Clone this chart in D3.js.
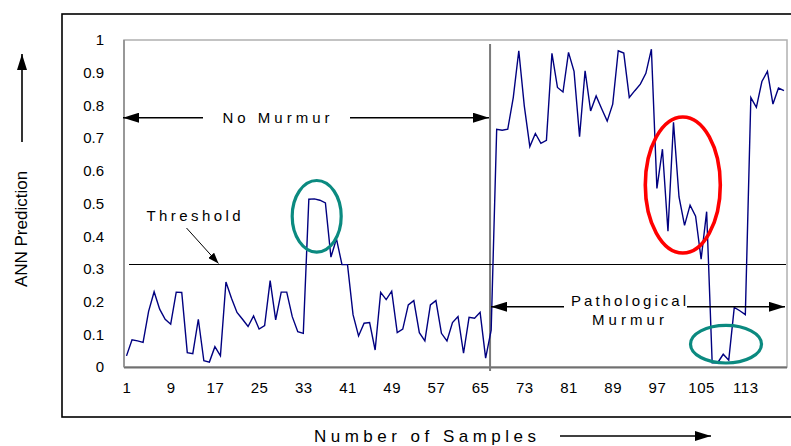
<!DOCTYPE html>
<html>
<head>
<meta charset="utf-8">
<script src="https://cdn.jsdelivr.net/npm/d3@7"></script>
<style>
  html, body { margin: 0; padding: 0; background: #fff; }
  svg { display: block; font-family: "Liberation Sans", Arial, sans-serif; }
</style>
</head>
<body>
<svg id="chart" width="791" height="446"></svg>
<script>
// ---- data ----
const sampleNumbers = d3.range(1, 121);
const annPrediction = [
  0.034, 0.083, 0.080, 0.075, 0.170, 0.230, 0.177, 0.146, 0.131, 0.229,
  0.228, 0.044, 0.041, 0.146, 0.019, 0.015, 0.062, 0.034, 0.260, 0.210,
  0.167, 0.146, 0.124, 0.156, 0.116, 0.127, 0.264, 0.144, 0.229, 0.229,
  0.154, 0.108, 0.103, 0.513, 0.514, 0.510, 0.502, 0.336, 0.392, 0.313,
  0.313, 0.160, 0.095, 0.134, 0.136, 0.052, 0.228, 0.206, 0.232, 0.105,
  0.116, 0.190, 0.203, 0.105, 0.080, 0.190, 0.203, 0.103, 0.080, 0.136,
  0.154, 0.042, 0.152, 0.149, 0.167, 0.027, 0.113, 0.727, 0.724, 0.727,
  0.824, 0.967, 0.798, 0.674, 0.714, 0.684, 0.693, 0.959, 0.855, 0.841,
  0.962, 0.904, 0.704, 0.906, 0.783, 0.829, 0.790, 0.752, 0.804, 0.967,
  0.960, 0.824, 0.845, 0.865, 0.898, 0.972, 0.546, 0.666, 0.415, 0.748,
  0.520, 0.433, 0.495, 0.461, 0.330, 0.475, 0.013, 0.013, 0.039, 0.021,
  0.182, 0.172, 0.160, 0.824, 0.794, 0.873, 0.904, 0.804, 0.853, 0.845
];
const xTickLabels = [1, 9, 17, 25, 33, 41, 49, 57, 65, 73, 81, 89, 97, 105, 113];
const yTickLabels = [0, 0.1, 0.2, 0.3, 0.4, 0.5, 0.6, 0.7, 0.8, 0.9, 1];
const thresholdValue = 0.315;
const classBoundarySample = 66.8;
const classLabels = ["No Murmur", "Pathological", "Murmur"];
const axisTitles = { x: "Number of Samples", y: "ANN Prediction", threshold: "Threshold" };

// ---- layout ----
const svg = d3.select("#chart");
const plot = { left: 124, right: 787, top: 40, bottom: 367 };

const x = d3.scaleLinear().domain([1, 120]).range([126.5, 784]);
const y = d3.scaleLinear().domain([0, 1]).range([plot.bottom, plot.top]);

// arrow marker
const defs = svg.append("defs");
function marker(id, w, h) {
  defs.append("marker")
    .attr("id", id).attr("viewBox", `0 0 ${w} ${h}`)
    .attr("refX", w).attr("refY", h / 2)
    .attr("markerWidth", w).attr("markerHeight", h)
    .attr("markerUnits", "userSpaceOnUse")
    .attr("orient", "auto")
    .append("path").attr("d", `M0,0L${w},${h / 2}L0,${h}Z`).attr("fill", "#000");
}
marker("arrowBig", 16, 10);
marker("arrowSmall", 11, 8);

// outer frame
svg.append("rect").attr("x", 62).attr("y", 14).attr("width", 760).attr("height", 403)
  .attr("fill", "none").attr("stroke", "#000").attr("stroke-width", 1.6);

// plot frame
svg.append("rect").attr("x", plot.left).attr("y", plot.top)
  .attr("width", plot.right - plot.left).attr("height", plot.bottom - plot.top)
  .attr("fill", "none").attr("stroke", "#b0b0b0").attr("stroke-width", 1.5);
svg.append("line").attr("x1", plot.left).attr("x2", plot.right)
  .attr("y1", plot.bottom + 0.5).attr("y2", plot.bottom + 0.5)
  .attr("stroke", "#707070").attr("stroke-width", 2);
svg.append("line").attr("x1", plot.left).attr("x2", plot.left)
  .attr("y1", plot.top).attr("y2", plot.bottom)
  .attr("stroke", "#8a8a8a").attr("stroke-width", 1.5);

// axes (labels only)
const yAxis = d3.axisLeft(y).tickValues(yTickLabels).tickSize(0).tickPadding(0)
  .tickFormat(d => d3.format("~g")(d));
svg.append("g").attr("transform", `translate(104,0)`).call(yAxis)
  .call(g => g.select(".domain").remove())
  .selectAll("text").attr("font-size", 15).attr("font-family", "Liberation Sans, Arial, sans-serif")
  .attr("fill", "#000");

const xAxis = d3.axisBottom(x).tickValues(xTickLabels).tickSize(0).tickPadding(0);
svg.append("g").attr("transform", `translate(0,382)`).call(xAxis)
  .call(g => g.select(".domain").remove())
  .selectAll("text").attr("font-size", 15).attr("font-family", "Liberation Sans, Arial, sans-serif")
  .attr("fill", "#000").attr("letter-spacing", 0.5);

// class boundary
svg.append("line").attr("x1", x(classBoundarySample)).attr("x2", x(classBoundarySample))
  .attr("y1", 44).attr("y2", plot.bottom + 4)
  .attr("stroke", "#7a7a7a").attr("stroke-width", 2);

// threshold line
svg.append("line").attr("x1", 129).attr("x2", 786)
  .attr("y1", Math.round(y(thresholdValue)) + 0.5).attr("y2", Math.round(y(thresholdValue)) + 0.5)
  .attr("stroke", "#000").attr("stroke-width", 1).attr("shape-rendering", "crispEdges");

// data line
svg.append("path")
  .datum(annPrediction)
  .attr("fill", "none").attr("stroke", "#000080").attr("stroke-width", 1.4)
  .attr("stroke-linejoin", "miter")
  .attr("d", d3.line().x((d, i) => x(sampleNumbers[i])).y(d => y(d)));

// ellipses
function ellipse(cx, cy, rx, ry, color, w) {
  svg.append("ellipse").attr("cx", cx).attr("cy", cy).attr("rx", rx).attr("ry", ry)
    .attr("fill", "none").attr("stroke", color).attr("stroke-width", w);
}
ellipse(316.7, 216.3, 24.5, 35.8, "#0b8a80", 3.2);
ellipse(682.8, 185, 37.5, 68, "#ff0000", 3.6);
ellipse(726, 344.2, 35.5, 18.8, "#0b8a80", 3.2);

// text helper
function label(txt, cx, by, size, len) {
  const t = svg.append("text").attr("x", cx).attr("y", by)
    .attr("text-anchor", "middle").attr("font-size", size).attr("fill", "#000").text(txt);
  if (len) t.attr("textLength", len).attr("lengthAdjust", "spacing");
  return t;
}

// No Murmur
label(classLabels[0], 276, 122.5, 15, 107);
svg.append("line").attr("x1", 203).attr("x2", 123).attr("y1", 117.7).attr("y2", 117.7)
  .attr("stroke", "#000").attr("stroke-width", 1.6).attr("marker-end", "url(#arrowBig)");
svg.append("line").attr("x1", 350).attr("x2", 489).attr("y1", 117.7).attr("y2", 117.7)
  .attr("stroke", "#000").attr("stroke-width", 1.6).attr("marker-end", "url(#arrowBig)");

// Pathological Murmur
label(classLabels[1], 628.5, 306, 15, 115);
label(classLabels[2], 628, 325, 15, 72);
svg.append("line").attr("x1", 564).attr("x2", 491).attr("y1", 306.8).attr("y2", 306.8)
  .attr("stroke", "#000").attr("stroke-width", 1.6).attr("marker-end", "url(#arrowBig)");
svg.append("line").attr("x1", 687).attr("x2", 785).attr("y1", 306.8).attr("y2", 306.8)
  .attr("stroke", "#000").attr("stroke-width", 1.6).attr("marker-end", "url(#arrowBig)");

// Threshold label
label(axisTitles.threshold, 193.5, 221, 15, 94);
svg.append("line").attr("x1", 186.5).attr("y1", 228).attr("x2", 218.5).attr("y2", 263.5)
  .attr("stroke", "#000").attr("stroke-width", 1).attr("marker-end", "url(#arrowSmall)");

// x axis title
label(axisTitles.x, 425, 442, 17, 222);
svg.append("line").attr("x1", 560).attr("x2", 711).attr("y1", 436).attr("y2", 436)
  .attr("stroke", "#000").attr("stroke-width", 1.6).attr("marker-end", "url(#arrowBig)");

// y axis title
svg.append("text").attr("transform", "translate(27,229) rotate(-90)")
  .attr("text-anchor", "middle").attr("font-size", 17).attr("fill", "#000")
  .text(axisTitles.y);
svg.append("line").attr("x1", 22).attr("x2", 22).attr("y1", 142).attr("y2", 54)
  .attr("stroke", "#000").attr("stroke-width", 1.6).attr("marker-end", "url(#arrowBig)");
</script>
</body>
</html>
